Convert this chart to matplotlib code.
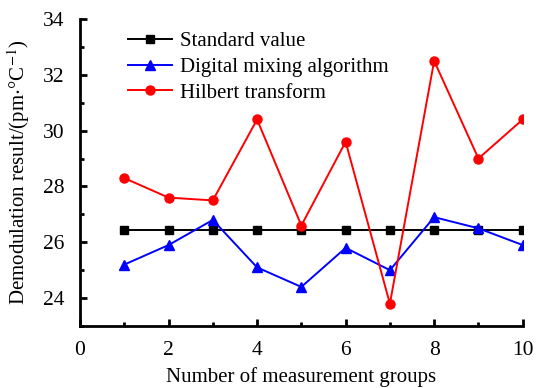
import matplotlib

matplotlib.use("Agg")
import matplotlib.pyplot as plt
from matplotlib.ticker import MultipleLocator

# Data.
groups = [1, 2, 3, 4, 5, 6, 7, 8, 9, 10]
standard = [26.44] * 10
digital_mixing = [25.2, 25.9, 26.8, 25.1, 24.4, 25.8, 25.0, 26.9, 26.5, 25.9]
hilbert = [28.3, 27.6, 27.5, 30.4, 26.6, 29.6, 23.8, 32.5, 29.0, 30.4]

plt.rcParams.update({
    "font.family": "serif",
    "font.serif": ["Liberation Serif"],
    "mathtext.fontset": "stix",
    "font.size": 15,
})

fig = plt.figure(figsize=(5.4, 3.88), dpi=100)
ax = fig.add_axes([80 / 540, 1 - 326 / 388, (522.7 - 80) / 540, (326 - 19) / 388])

ax.plot(groups, standard, color="black", marker="s", markersize=5.5,
        linewidth=1.4, label="Standard value")
ax.plot(groups, digital_mixing, color="blue", marker="^", markersize=7.5,
        linewidth=1.4, label="Digital mixing algorithm")
ax.plot(groups, hilbert, color="red", marker="o", markersize=6.5,
        linewidth=1.4, label="Hilbert transform")

ax.set_xlim(0, 10)
ax.set_ylim(23, 34)
ax.xaxis.set_major_locator(MultipleLocator(2))
ax.xaxis.set_minor_locator(MultipleLocator(1))
ax.yaxis.set_major_locator(MultipleLocator(2))
ax.yaxis.set_minor_locator(MultipleLocator(1))
ax.tick_params(which="major", direction="in", length=5, width=2, labelsize=15.5, pad=11)
ax.tick_params(which="minor", direction="in", length=3, width=2)

for side in ("top", "right"):
    ax.spines[side].set_visible(False)
for side in ("left", "bottom"):
    ax.spines[side].set_linewidth(2)

ax.set_xlabel("Number of measurement groups", fontsize=15, labelpad=5)
ax.set_ylabel("Demodulation result/(pm$\\cdot$°C$^{-1}$)", fontsize=15, labelpad=8)

ax.legend(loc="upper left", bbox_to_anchor=(0.08, 1.0), frameon=False,
          fontsize=15, handlelength=2.1, handletextpad=0.4,
          labelspacing=0.3, borderaxespad=0.2)

fig.savefig("out.png", dpi=100)
